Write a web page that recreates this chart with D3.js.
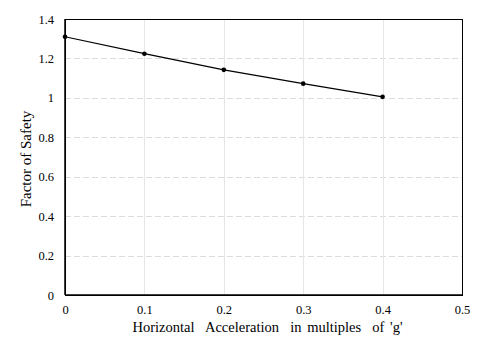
<!DOCTYPE html>
<html>
<head>
<meta charset="utf-8">
<script src="https://cdn.jsdelivr.net/npm/d3@7"></script>
<style>
  html, body { margin: 0; padding: 0; background: #fff; }
  #chart text { font-family: "Liberation Serif", "Times New Roman", Tinos; fill: #000; }
</style>
</head>
<body>
<svg id="chart" width="500" height="345"></svg>
<script>
// Factor of safety versus horizontal seismic acceleration
const accel = [0, 0.1, 0.2, 0.3, 0.4];
const factorOfSafety = [1.31, 1.224, 1.142, 1.072, 1.005];
const xTicks = [0, 0.1, 0.2, 0.3, 0.4, 0.5];
const yTicks = [0, 0.2, 0.4, 0.6, 0.8, 1, 1.2, 1.4];

const SERIF = '"Liberation Serif", "Times New Roman", Tinos';
const svg = d3.select("#chart");
const m = { left: 65, right: 462, top: 19, bottom: 295 };

const x = d3.scaleLinear().domain([0, 0.5]).range([m.left, m.right]);
const y = d3.scaleLinear().domain([0, 1.4]).range([m.bottom, m.top]);

// gridlines
svg.append("g").selectAll("line").data(yTicks.slice(1, -1)).join("line")
  .attr("x1", m.left).attr("x2", m.right)
  .attr("y1", d => Math.round(y(d)) + 0.5).attr("y2", d => Math.round(y(d)) + 0.5)
  .attr("stroke", "#dcdcdc").attr("stroke-dasharray", "6,3");
svg.append("g").selectAll("line").data(xTicks.slice(1, -1)).join("line")
  .attr("y1", m.top).attr("y2", m.bottom)
  .attr("x1", d => Math.round(x(d)) + 0.5).attr("x2", d => Math.round(x(d)) + 0.5)
  .attr("stroke", "#e6e6e6");

// plot frame
svg.append("rect")
  .attr("x", m.left + 0.5).attr("y", m.top + 0.5)
  .attr("width", m.right - m.left).attr("height", m.bottom - m.top)
  .attr("fill", "none").attr("stroke", "#000").attr("stroke-width", 1);
svg.append("line").attr("x1", m.left).attr("x2", m.right + 1)
  .attr("y1", m.bottom).attr("y2", m.bottom).attr("stroke", "#000").attr("stroke-width", 1.5);
svg.append("line").attr("x1", m.left).attr("x2", m.left)
  .attr("y1", m.top).attr("y2", m.bottom).attr("stroke", "#000").attr("stroke-width", 1.5);

// axes (labels only)
const xAxis = d3.axisBottom(x).tickValues(xTicks).tickSize(0).tickPadding(10.5).tickFormat(d3.format("~g"));
const gx = svg.append("g").attr("transform", `translate(0,${m.bottom})`).call(xAxis)
  .style("font-family", SERIF);
gx.select(".domain").remove();
gx.selectAll("text").style("font-family", SERIF).style("font-size", "12.5px");

const yAxis = d3.axisLeft(y).tickValues(yTicks).tickSize(0).tickPadding(11).tickFormat(d3.format("~g"));
const gy = svg.append("g").attr("transform", `translate(${m.left},0)`).call(yAxis)
  .style("font-family", SERIF);
gy.select(".domain").remove();
gy.selectAll("text").style("font-family", SERIF).style("font-size", "12.5px");

// series
const pts = accel.map((a, i) => [a, factorOfSafety[i]]);
svg.append("path").datum(pts)
  .attr("d", d3.line().x(d => x(d[0])).y(d => y(d[1])))
  .attr("fill", "none").attr("stroke", "#000").attr("stroke-width", 1.2);
svg.append("g").selectAll("circle").data(pts).join("circle")
  .attr("cx", d => x(d[0])).attr("cy", d => y(d[1])).attr("r", 2.3).attr("fill", "#000");

// axis titles
svg.append("text").attr("x", 267.5).attr("y", 332).attr("text-anchor", "middle")
  .style("font-size", "14.5px").style("white-space", "pre").style("word-spacing", "2px")
  .text("Horizontal  Acceleration  in multiples  of 'g'");
svg.append("text").attr("transform", "translate(31,159) rotate(-90)").attr("text-anchor", "middle")
  .style("font-size", "15px")
  .text("Factor of Safety");
</script>
</body>
</html>
